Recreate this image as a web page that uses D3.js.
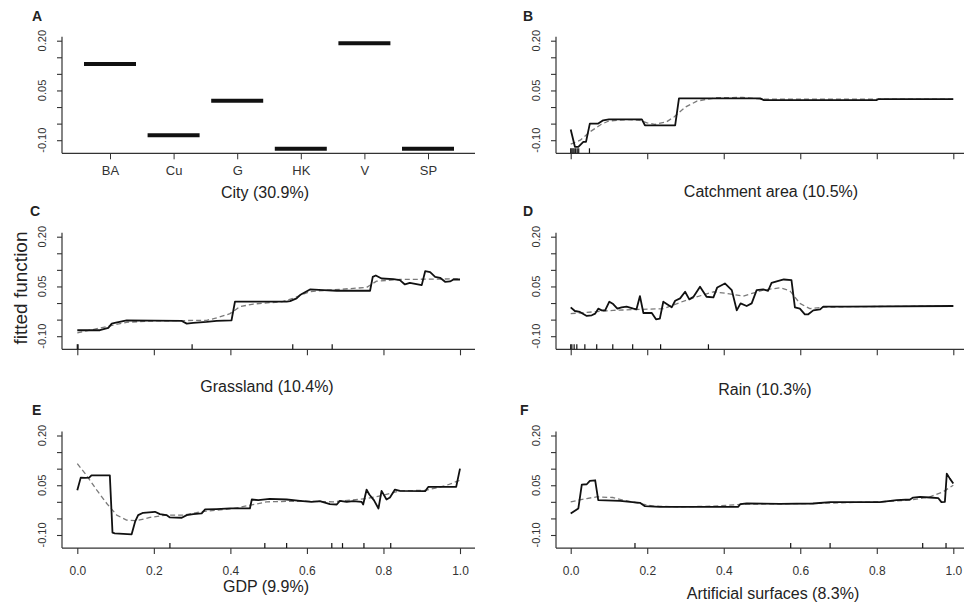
<!DOCTYPE html>
<html>
<head>
<meta charset="utf-8">
<script src="https://cdn.jsdelivr.net/npm/d3@7"></script>
<style>
  body { margin: 0; background: #fff; }
  svg { font-family: "Liberation Sans", Arial, Helvetica, sans-serif; }
  .axis path, .axis line { stroke: #333; }
</style>
</head>
<body>
<div id="chart"></div>
<script>
// ---- data ----
var cityNames = ['BA', 'Cu', 'G', 'HK', 'V', 'SP'];
var cityEffect = [0.130, -0.085, 0.019, -0.126, 0.192, -0.126];

var catchX = [0, 0.011, 0.02, 0.033, 0.04, 0.05, 0.072, 0.085, 0.1, 0.186, 0.194, 0.273, 0.283, 0.495, 0.505, 0.8, 0.805, 1.0];
var catchFit = [-0.068, -0.12, -0.12, -0.105, -0.105, -0.05, -0.05, -0.04, -0.037, -0.037, -0.055, -0.055, 0.026, 0.026, 0.021, 0.021, 0.024, 0.024];
var catchSmX = [0, 0.025, 0.05, 0.08, 0.1, 0.15, 0.18, 0.2, 0.22, 0.25, 0.27, 0.3, 0.33, 0.38, 0.45, 0.5, 1.0];
var catchSm = [-0.112, -0.1, -0.075, -0.052, -0.042, -0.038, -0.04, -0.048, -0.052, -0.045, -0.03, 0.0, 0.018, 0.028, 0.029, 0.024, 0.024];
var catchRug = [0, 0.003, 0.006, 0.009, 0.013, 0.017, 0.021, 0.049];

var grassX = [0, 0.059, 0.081, 0.09, 0.098, 0.129, 0.273, 0.286, 0.303, 0.338, 0.364, 0.403, 0.412, 0.547, 0.556, 0.573, 0.582, 0.608, 0.643, 0.678, 0.765, 0.772, 0.78, 0.795, 0.826, 0.843, 0.856, 0.869, 0.9, 0.909, 0.922, 0.935, 0.948, 0.961, 0.974, 0.983, 1];
var grassFit = [-0.082, -0.082, -0.075, -0.062, -0.06, -0.052, -0.054, -0.062, -0.06, -0.057, -0.054, -0.052, 0.004, 0.004, 0.006, 0.014, 0.024, 0.041, 0.039, 0.037, 0.037, 0.079, 0.083, 0.074, 0.072, 0.069, 0.056, 0.061, 0.054, 0.096, 0.093, 0.079, 0.076, 0.064, 0.065, 0.071, 0.071];
var grassSmX = [0, 0.129, 0.2, 0.338, 0.364, 0.399, 0.425, 0.46, 0.536, 0.563, 0.606, 0.667, 0.756, 0.782, 0.843, 1];
var grassSm = [-0.09, -0.058, -0.054, -0.052, -0.045, -0.032, -0.011, -0.003, 0.004, 0.014, 0.034, 0.04, 0.047, 0.066, 0.071, 0.073];
var grassRug = [0, 0.002, 0.3, 0.563, 0.666];

var rainX = [0, 0.011, 0.024, 0.042, 0.055, 0.064, 0.072, 0.081, 0.09, 0.101, 0.111, 0.122, 0.133, 0.146, 0.164, 0.172, 0.181, 0.19, 0.212, 0.223, 0.233, 0.242, 0.251, 0.264, 0.273, 0.286, 0.299, 0.31, 0.321, 0.338, 0.355, 0.373, 0.383, 0.403, 0.421, 0.434, 0.444, 0.46, 0.473, 0.486, 0.503, 0.516, 0.525, 0.543, 0.557, 0.577, 0.586, 0.599, 0.612, 0.621, 0.634, 0.652, 0.66, 0.721, 1];
var rainFit = [-0.013, -0.024, -0.027, -0.039, -0.037, -0.032, -0.017, -0.022, -0.022, 0.004, -0.003, -0.017, -0.013, -0.011, -0.017, -0.019, 0.021, -0.03, -0.03, -0.049, -0.047, 0.004, -0.003, -0.013, 0.007, 0.014, 0.034, 0.011, 0.019, 0.049, 0.019, 0.017, 0.047, 0.059, 0.039, -0.022, -0.001, -0.009, -0.001, 0.039, 0.041, 0.037, 0.061, 0.067, 0.071, 0.069, -0.013, -0.017, -0.034, -0.034, -0.022, -0.019, -0.011, -0.011, -0.009];
var rainSmX = [0, 0.111, 0.242, 0.303, 0.373, 0.408, 0.451, 0.503, 0.547, 0.573, 0.599, 0.625, 0.66, 0.721, 1];
var rainSm = [-0.032, -0.022, -0.017, 0.009, 0.034, 0.029, 0.021, 0.039, 0.046, 0.037, -0.001, -0.017, -0.013, -0.011, -0.009];
var rainRug = [0, 0.003, 0.009, 0.016, 0.037, 0.068, 0.11, 0.162, 0.235, 0.36];

var gdpX = [0, 0.009, 0.02, 0.031, 0.037, 0.085, 0.092, 0.098, 0.142, 0.151, 0.159, 0.172, 0.203, 0.216, 0.233, 0.242, 0.273, 0.286, 0.303, 0.325, 0.334, 0.364, 0.399, 0.451, 0.456, 0.473, 0.503, 0.547, 0.582, 0.612, 0.634, 0.66, 0.678, 0.686, 0.704, 0.721, 0.743, 0.747, 0.756, 0.763, 0.775, 0.787, 0.795, 0.808, 0.817, 0.83, 0.843, 0.909, 0.917, 0.99, 1];
var gdpFit = [0.035, 0.073, 0.072, 0.073, 0.08, 0.08, -0.093, -0.095, -0.098, -0.06, -0.04, -0.033, -0.03, -0.037, -0.04, -0.047, -0.048, -0.04, -0.037, -0.035, -0.023, -0.022, -0.02, -0.02, 0.007, 0.005, 0.009, 0.007, 0.003, 0.0, 0.002, -0.007, -0.008, 0.003, 0.0, 0.002, 0.0, -0.008, 0.037, 0.022, 0.005, -0.02, 0.033, 0.007, 0.013, 0.037, 0.033, 0.032, 0.045, 0.045, 0.1];
var gdpSmX = [0, 0.024, 0.051, 0.077, 0.103, 0.129, 0.155, 0.19, 0.233, 0.279, 0.322, 0.409, 0.495, 0.582, 0.669, 0.756, 0.8, 0.843, 0.913, 0.965, 1];
var gdpSm = [0.115, 0.08, 0.035, -0.005, -0.04, -0.055, -0.057, -0.047, -0.04, -0.04, -0.03, -0.02, 0.0, 0.002, 0.0, 0.01, 0.02, 0.033, 0.035, 0.05, 0.065];
var gdpRug = [0.242, 0.49, 0.547, 0.665, 0.693, 0.749, 0.819];

var artX = [0, 0.02, 0.029, 0.042, 0.05, 0.064, 0.072, 0.129, 0.155, 0.181, 0.194, 0.233, 0.286, 0.373, 0.438, 0.443, 0.46, 0.547, 0.634, 0.678, 0.808, 0.852, 0.887, 0.895, 0.913, 0.939, 0.961, 0.969, 0.978, 0.983, 0.991, 1];
var artFit = [-0.035, -0.02, 0.052, 0.053, 0.063, 0.065, 0.005, 0.003, 0.0, -0.003, -0.013, -0.015, -0.015, -0.015, -0.015, -0.007, -0.005, -0.006, -0.005, -0.001, -0.001, 0.005, 0.007, 0.013, 0.015, 0.013, 0.011, -0.001, 0.0, 0.085, 0.07, 0.055];
var artSmX = [0, 0.042, 0.068, 0.111, 0.137, 0.181, 0.216, 0.286, 0.373, 0.46, 0.634, 0.808, 0.887, 0.939, 0.973, 1];
var artSm = [0.0, 0.01, 0.015, 0.013, 0.005, -0.005, -0.013, -0.015, -0.013, -0.007, -0.005, 0.0, 0.005, 0.015, 0.03, 0.05];
var artRug = [0.168, 0.575, 0.678, 0.92, 0.981];

var yTicks = [0.20, 0.15, 0.10, 0.05, 0.00, -0.05, -0.10];
var yLabelTicks = [0.20, 0.05, -0.10];
var xTicks = [0, 0.2, 0.4, 0.6, 0.8, 1.0];

var svg = d3.select('#chart')
    .append('svg')
    .attr('width', 964)
    .attr('height', 607);

svg.append('rect').attr('width', 964).attr('height', 607).attr('fill', '#fff');

function makeY(yTop) {
    return d3.scaleLinear().domain([-0.10, 0.20]).range([yTop + 99.5, yTop]);
}

// y axis with rotated labels, L-shaped frame
function drawYAxis(g, y, left, yTop, bottom) {
    var ax = g.append('g')
        .attr('class', 'axis')
        .attr('transform', `translate(${left},0)`)
        .call(d3.axisLeft(y).tickValues(yTicks).tickSize(5).tickSizeOuter(0).tickFormat(''));
    ax.select('.domain').remove();
    ax.selectAll('line').attr('stroke-width', 1.1);
    g.append('line')
        .attr('x1', left).attr('x2', left)
        .attr('y1', yTop - 4).attr('y2', bottom)
        .attr('stroke', '#333').attr('stroke-width', 1.2);
    yLabelTicks.forEach(function(v) {
        g.append('text')
            .attr('transform', `translate(${left - 16.5},${y(v)}) rotate(-90)`)
            .attr('text-anchor', 'middle')
            .attr('font-size', '11px')
            .attr('fill', '#333')
            .text(v.toFixed(2));
    });
}

function drawXLine(g, left, right, bottom) {
    g.append('line')
        .attr('x1', left).attr('x2', right)
        .attr('y1', bottom).attr('y2', bottom)
        .attr('stroke', '#333').attr('stroke-width', 1.2);
}

function drawCurve(g, x, y, xs, ys, dashed) {
    var pts = xs.map(function(d, i) { return [d, ys[i]]; });
    var line = d3.line().x(d => x(d[0])).y(d => y(d[1]));
    g.append('path')
        .datum(pts)
        .attr('d', line)
        .attr('fill', 'none')
        .attr('stroke', dashed ? '#7a7a7a' : '#111')
        .attr('stroke-width', dashed ? 1.3 : 1.8)
        .attr('stroke-dasharray', dashed ? '5,3' : null)
        .attr('stroke-linejoin', 'round');
}

function letter(t, x, y) {
    svg.append('text')
        .attr('x', x).attr('y', y)
        .attr('font-size', '14px')
        .attr('font-weight', 'bold')
        .attr('fill', '#222')
        .text(t);
}

function title(t, x, y) {
    svg.append('text')
        .attr('x', x).attr('y', y)
        .attr('text-anchor', 'middle')
        .attr('font-size', '16px')
        .attr('fill', '#222')
        .text(t);
}

// ---- panel A: city factor ----
(function() {
    var left = 62, right = 475, yTop = 40.7, bottom = 153.3;
    var g = svg.append('g');
    var x = d3.scalePoint().domain(cityNames).range([110, 428]);
    var y = makeY(yTop);
    drawYAxis(g, y, left, yTop, bottom);
    drawXLine(g, left, right, bottom);
    var xa = g.append('g')
        .attr('class', 'axis')
        .attr('transform', `translate(0,${bottom})`)
        .call(d3.axisBottom(x).tickSize(6).tickSizeOuter(0));
    xa.select('.domain').remove();
    xa.selectAll('text')
        .attr('y', 12)
        .attr('font-size', '13px')
        .attr('font-family', '"Liberation Sans", Arial, sans-serif')
        .attr('fill', '#333');
    g.selectAll('line.bar')
        .data(cityNames)
        .enter()
        .append('line')
        .attr('class', 'bar')
        .attr('x1', d => x(d) - 26)
        .attr('x2', d => x(d) + 26)
        .attr('y1', (d, i) => y(cityEffect[i]))
        .attr('y2', (d, i) => y(cityEffect[i]))
        .attr('stroke', '#111')
        .attr('stroke-width', 4);
})();

// ---- continuous panels ----
function contPanel(cfg) {
    var g = svg.append('g');
    var x = d3.scaleLinear().domain([0, 1]).range([cfg.x0, cfg.x1]);
    var y = makeY(cfg.yTop);
    var bottom = cfg.yTop + 112.6;
    drawYAxis(g, y, cfg.left, cfg.yTop, bottom);
    drawXLine(g, cfg.left, cfg.right, bottom);
    var xa = g.append('g')
        .attr('class', 'axis')
        .attr('transform', `translate(0,${bottom})`)
        .call(d3.axisBottom(x).tickValues(xTicks).tickSize(6).tickSizeOuter(0)
            .tickFormat(cfg.labels ? d3.format('.1f') : ''));
    xa.select('.domain').remove();
    xa.selectAll('line').attr('stroke-width', 1.1);
    xa.selectAll('text')
        .attr('y', 18)
        .attr('font-size', '12px')
        .attr('font-family', '"Liberation Sans", Arial, sans-serif')
        .attr('fill', '#333');
    // rug
    g.selectAll('line.rug')
        .data(cfg.rug)
        .enter()
        .append('line')
        .attr('class', 'rug')
        .attr('x1', d => x(d)).attr('x2', d => x(d))
        .attr('y1', bottom).attr('y2', bottom - 5)
        .attr('stroke', '#111').attr('stroke-width', 1.2);
    drawCurve(g, x, y, cfg.smX, cfg.sm, true);
    drawCurve(g, x, y, cfg.fitX, cfg.fit, false);
}

contPanel({left: 556, right: 964, x0: 570.7, x1: 953.3, yTop: 40.7, labels: false,
    fitX: catchX, fit: catchFit, smX: catchSmX, sm: catchSm, rug: catchRug});
contPanel({left: 62, right: 475, x0: 77.3, x1: 460, yTop: 236.7, labels: false,
    fitX: grassX, fit: grassFit, smX: grassSmX, sm: grassSm, rug: grassRug});
contPanel({left: 556, right: 964, x0: 570.7, x1: 953.3, yTop: 236.7, labels: false,
    fitX: rainX, fit: rainFit, smX: rainSmX, sm: rainSm, rug: rainRug});
contPanel({left: 62, right: 475, x0: 77.3, x1: 460, yTop: 435.5, labels: true,
    fitX: gdpX, fit: gdpFit, smX: gdpSmX, sm: gdpSm, rug: gdpRug});
contPanel({left: 556, right: 964, x0: 570.7, x1: 953.3, yTop: 435.5, labels: true,
    fitX: artX, fit: artFit, smX: artSmX, sm: artSm, rug: artRug});

// ---- letters and titles ----
letter('A', 32, 20.5);
letter('B', 523, 20.5);
letter('C', 30, 215.5);
letter('D', 523, 216);
letter('E', 32, 415);
letter('F', 520, 415);

title('City (30.9%)', 265, 198);
title('Catchment area (10.5%)', 771, 197);
title('Grassland (10.4%)', 267, 392);
title('Rain (10.3%)', 765, 395);
title('GDP (9.9%)', 266, 592);
title('Artificial surfaces (8.3%)', 773, 599);

svg.append('text')
    .attr('transform', 'translate(27,288) rotate(-90)')
    .attr('text-anchor', 'middle')
    .attr('font-size', '19px')
    .attr('fill', '#222')
    .text('fitted function');
</script>
</body>
</html>
